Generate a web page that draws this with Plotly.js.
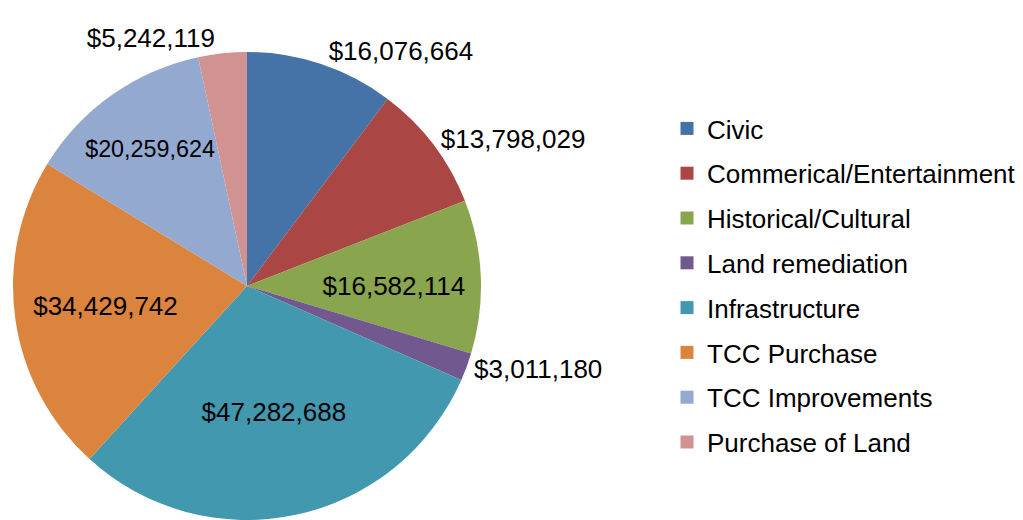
<!DOCTYPE html>
<html>
<head>
<meta charset="utf-8">
<script src="https://cdn.plot.ly/plotly-3.0.1.min.js"></script>
<style>html,body{margin:0;padding:0;background:#fff;}#chart{width:1023px;height:520px;}</style>
</head>
<body>
<div id="chart"></div>
<script>
const categories = ["Civic","Commerical/Entertainment","Historical/Cultural","Land remediation","Infrastructure","TCC Purchase","TCC Improvements","Purchase of Land"];
const values = [16076664,13798029,16582114,3011180,47282688,34429742,20259624,5242119];
const colors = ["#4572A7","#AA4643","#89A54E","#71588F","#4198AF","#DB843D","#93A9CF","#D19392"];
const textPositions = ["outside","outside","inside","outside","inside","inside","inside","outside"];

const W = 1023, H = 520;
const cx = 247, cy = 286, r = 234;
const FONT = "Liberation Sans, Arial, sans-serif";

const traces = [{
  type: "pie",
  labels: categories,
  values: values,
  sort: false,
  direction: "clockwise",
  rotation: 0,
  marker: {colors: colors, line: {width: 0}},
  texttemplate: "$%{value:,}",
  textinfo: "value",
  textposition: textPositions,
  insidetextorientation: "horizontal",
  textfont: {family: FONT, size: 26, color: "#000"},
  outsidetextfont: {family: FONT, size: 26, color: "#000"},
  insidetextfont: {family: FONT, size: 26, color: "#000"},
  automargin: false,
  showlegend: false,
  hoverinfo: "label+value+percent",
  domain: {x: [(cx - r) / W, (cx + r) / W], y: [(H - cy - r) / H, (H - cy + r) / H]}
}];

categories.forEach((c, i) => {
  traces.push({
    type: "scatter",
    mode: "markers",
    x: [null], y: [null],
    name: c,
    legendgroup: "g" + i,
    marker: {symbol: "square", size: 13, color: colors[i], line: {width: 0}},
    showlegend: true,
    hoverinfo: "skip"
  });
});

const layout = {
  width: W, height: H,
  margin: {l: 0, r: 0, t: 0, b: 0},
  paper_bgcolor: "#fff",
  plot_bgcolor: "#fff",
  xaxis: {visible: false},
  yaxis: {visible: false},
  showlegend: true,
  legend: {
    x: 667 / W, y: 1 - 105 / H, xanchor: "left", yanchor: "top",
    font: {family: FONT, size: 26, color: "#000"},
    tracegroupgap: 8,
    bgcolor: "rgba(0,0,0,0)"
  },
  font: {family: FONT}
};

Plotly.newPlot("chart", traces, layout, {displayModeBar: false, staticPlot: true});
</script>
</body>
</html>
